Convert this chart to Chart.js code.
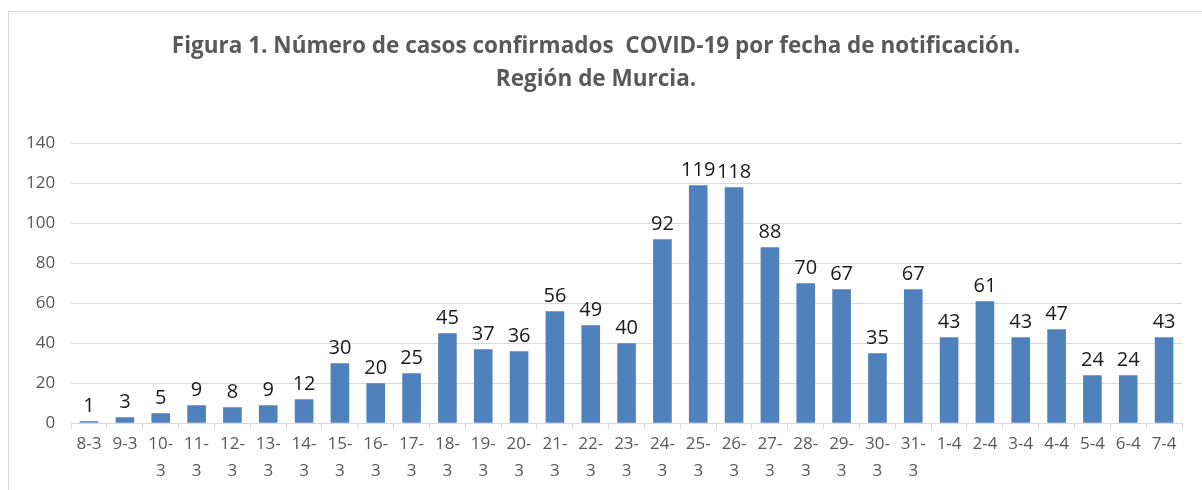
<!DOCTYPE html>
<html>
<head>
<meta charset="utf-8">
<script src="https://cdn.jsdelivr.net/npm/chart.js@4"></script>
<style>
  html, body { margin: 0; padding: 0; background: #fff; overflow: hidden; }
  #frame { position: absolute; left: 8px; top: 11px; width: 1300px; height: 600px; border: 1px solid #d9d9d9; }
  #myChart { position: absolute; left: 0; top: 0; }
</style>
</head>
<body>
<div id="frame"></div>
<canvas id="myChart" width="1202" height="490"></canvas>
<script>
// dates (day-month) and confirmed cases
const fechas = ["8-3", "9-3", "10-3", "11-3", "12-3", "13-3", "14-3", "15-3", "16-3", "17-3",
  "18-3", "19-3", "20-3", "21-3", "22-3", "23-3", "24-3", "25-3", "26-3", "27-3",
  "28-3", "29-3", "30-3", "31-3", "1-4", "2-4", "3-4", "4-4", "5-4", "6-4", "7-4"];
const casos = [1, 3, 5, 9, 8, 9, 12, 30, 20, 25,
  45, 37, 36, 56, 49, 40, 92, 119, 118, 88,
  70, 67, 35, 67, 43, 61, 43, 47, 24, 24, 43];
const yTicks = [0, 20, 40, 60, 80, 100, 120, 140];

const titulo = ["Figura 1. Número de casos confirmados  COVID-19 por fecha de notificación.", "Región de Murcia."];

// draw value over each bar
const valueLabels = {
  id: "valueLabels",
  afterDatasetsDraw(chart) {
    const ctx = chart.ctx;
    const meta = chart.getDatasetMeta(0);
    ctx.save();
    ctx.font = "20px 'Open Sans', sans-serif";
    ctx.fillStyle = "#1a1a1a";
    ctx.textAlign = "center";
    ctx.textBaseline = "bottom";
    meta.data.forEach((bar, i) => {
      ctx.fillText(String(casos[i]), bar.x, bar.y - 5);
    });
    ctx.restore();
  }
};

new Chart("myChart", {
  type: "bar",
  data: {
    labels: fechas,
    datasets: [{
      backgroundColor: "#4f81bd",
      data: casos,
      barPercentage: 0.52,
      categoryPercentage: 1
    }]
  },
  options: {
    responsive: false,
    animation: false,
    layout: { padding: { left: 10, right: 20, top: 20, bottom: 4 } },
    plugins: {
      legend: { display: false },
      tooltip: { enabled: false },
      title: {
        display: true,
        text: titulo,
        color: "#595959",
        font: { family: "'Open Sans', sans-serif", size: 22.5, weight: "bold", lineHeight: 1.47 },
        padding: { top: 10, bottom: 47 }
      }
    },
    scales: {
      x: {
        grid: { drawOnChartArea: false, color: "#d9d9d9", tickLength: 6 },
        border: { color: "#d9d9d9" },
        ticks: {
          color: "#595959",
          font: { family: "'Open Sans', sans-serif", size: 17, lineHeight: 1.55 },
          autoSkip: false,
          maxRotation: 0,
          padding: 2,
          callback: function (v, i) {
            const s = fechas[i];
            return s.length > 3 ? [s.slice(0, s.indexOf("-") + 1), s.slice(s.indexOf("-") + 1)] : s;
          }
        }
      },
      y: {
        min: 0,
        max: 140,
        afterBuildTicks: axis => { axis.ticks = yTicks.map(v => ({ value: v })); },
        grid: { color: "#d9d9d9", drawTicks: false },
        border: { display: false },
        ticks: {
          color: "#595959",
          padding: 16,
          font: { family: "'Open Sans', sans-serif", size: 17 }
        }
      }
    }
  },
  plugins: [valueLabels]
});
</script>
</body>
</html>
